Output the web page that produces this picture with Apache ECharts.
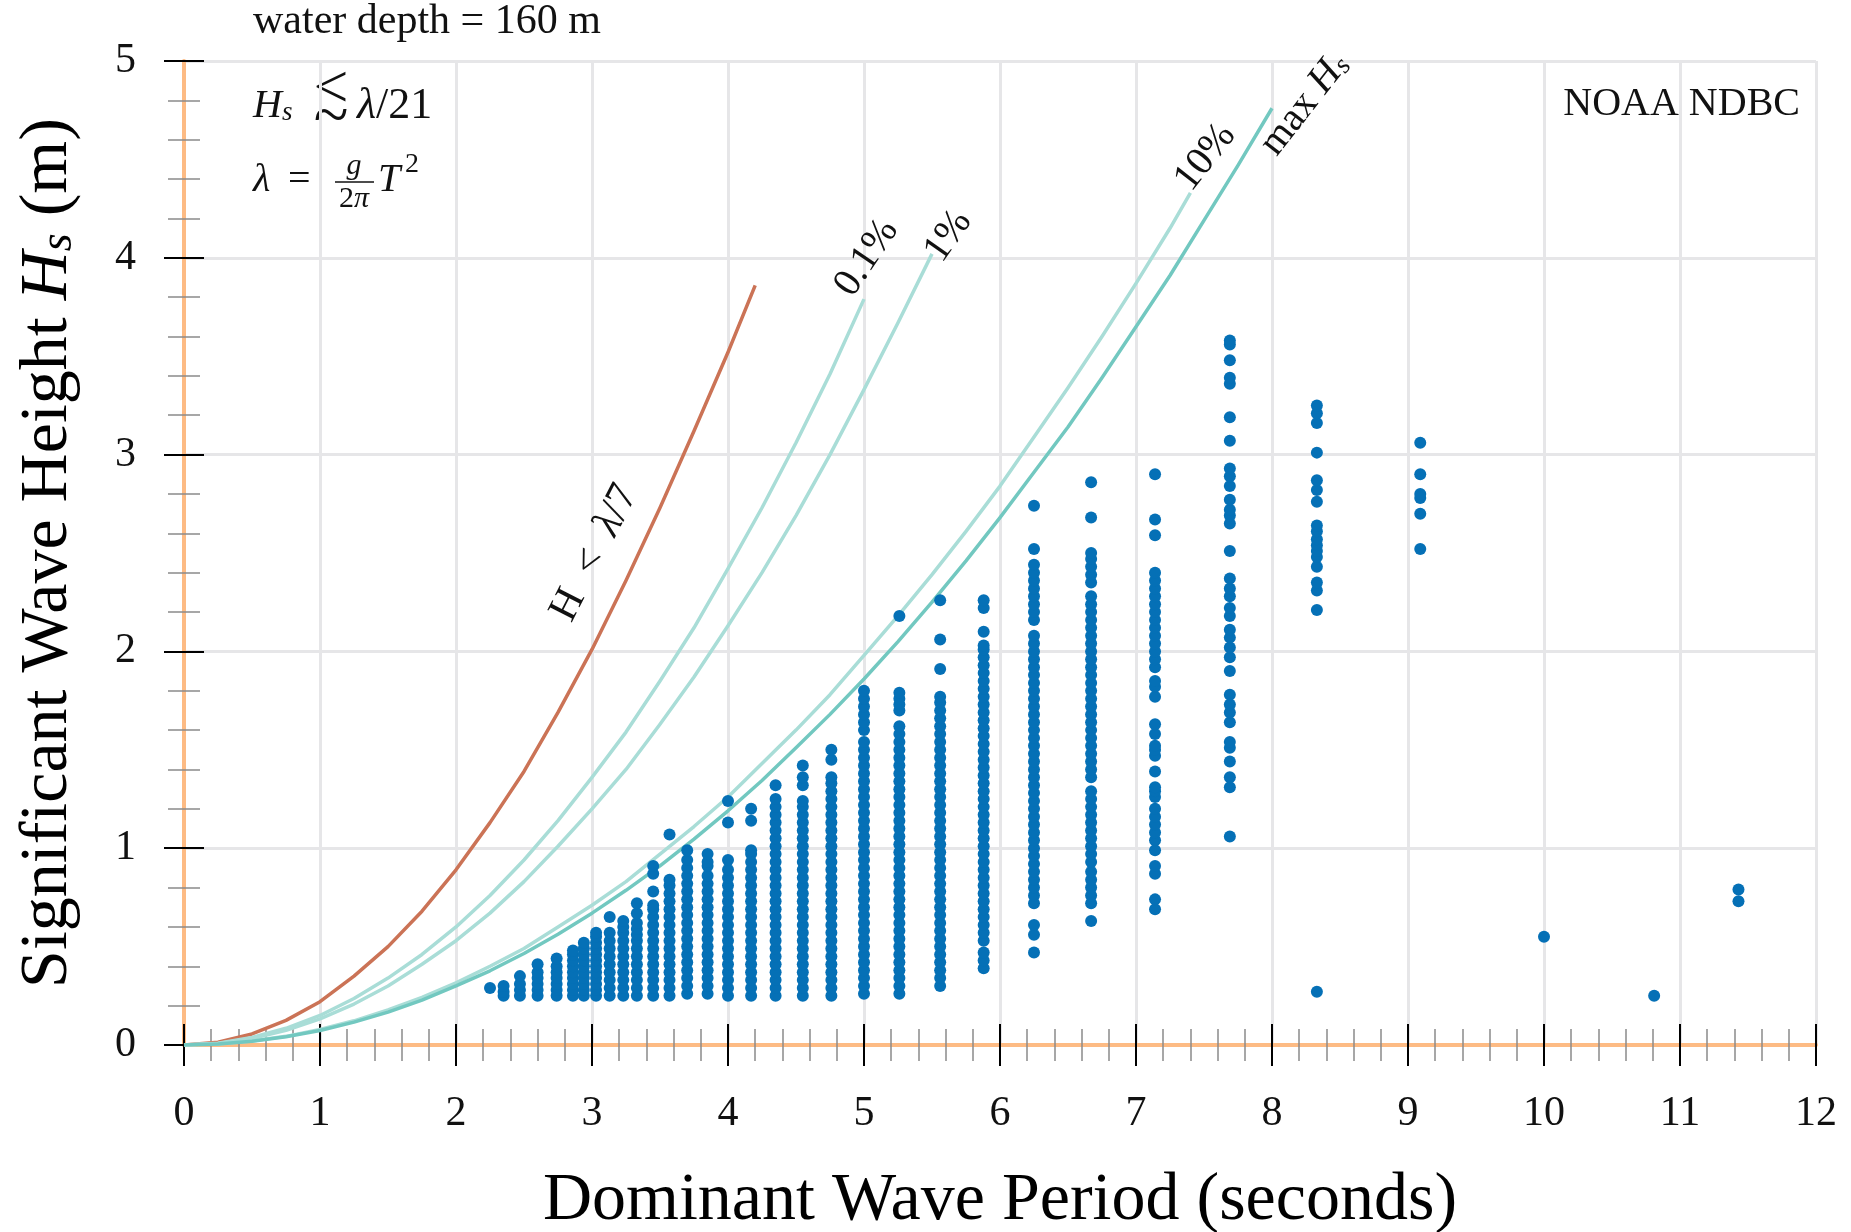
<!DOCTYPE html>
<html><head><meta charset="utf-8">
<script src="https://cdn.jsdelivr.net/npm/echarts@6/dist/echarts.min.js"></script>
<style>html,body{margin:0;padding:0;background:#fff}#c{width:1851px;height:1232px}</style>
</head><body><div id="c"></div>
<script>
// ---- data ----
const periods = [2.25,2.35,2.47,2.6,2.74,2.86,2.94,3.03,3.13,3.23,3.33,3.45,3.57,3.7,3.85,4.0,4.17,4.35,4.55,4.76,5.0,5.26,5.56,5.88,6.25,6.67,7.14,7.69,8.33,9.09,10.0,10.81,11.43];
const heights = [
 [0.29],
 [0.25,0.27,0.30],
 [0.25,0.28,0.31,0.35],
 [0.25,0.28,0.31,0.34,0.37,0.41],
 [0.25,0.28,0.31,0.34,0.37,0.40,0.44],
 [0.25,0.28,0.31,0.34,0.37,0.40,0.43,0.46,0.48],
 [0.25,0.28,0.31,0.34,0.37,0.40,0.43,0.46,0.49,0.52],
 [0.25,0.28,0.31,0.34,0.37,0.40,0.43,0.46,0.49,0.52,0.55,0.57],
 [0.25,0.29,0.33,0.37,0.41,0.45,0.49,0.53,0.57,0.65],
 [0.25,0.29,0.33,0.37,0.41,0.45,0.49,0.53,0.57,0.60,0.63],
 [0.25,0.29,0.33,0.37,0.41,0.45,0.49,0.53,0.56,0.59,0.62,0.67,0.72],
 [0.25,0.29,0.33,0.37,0.41,0.45,0.49,0.53,0.57,0.61,0.65,0.69,0.71,0.78,0.87,0.91],
 [0.25,0.29,0.33,0.37,0.41,0.45,0.49,0.53,0.57,0.61,0.65,0.69,0.73,0.77,0.81,0.84,1.07],
 [0.26,0.30,0.34,0.38,0.42,0.46,0.50,0.54,0.58,0.62,0.66,0.70,0.74,0.78,0.82,0.86,0.90,0.94,0.99],
 [0.26,0.30,0.34,0.38,0.42,0.46,0.50,0.54,0.58,0.62,0.66,0.70,0.74,0.78,0.82,0.86,0.91,0.93,0.97],
 [0.25,0.29,0.33,0.37,0.41,0.45,0.49,0.53,0.57,0.61,0.65,0.69,0.73,0.77,0.81,0.85,0.89,0.94,1.13,1.24],
 [0.25,0.29,0.33,0.37,0.41,0.45,0.49,0.53,0.57,0.61,0.65,0.69,0.73,0.77,0.81,0.85,0.89,0.93,0.97,0.99,1.14,1.20],
 [0.25,0.29,0.33,0.37,0.41,0.45,0.49,0.53,0.57,0.61,0.65,0.69,0.73,0.77,0.81,0.85,0.89,0.93,0.97,1.01,1.05,1.09,1.13,1.17,1.21,1.25,1.32],
 [0.25,0.29,0.33,0.37,0.41,0.45,0.49,0.53,0.57,0.61,0.65,0.69,0.73,0.77,0.81,0.85,0.89,0.93,0.97,1.01,1.05,1.09,1.13,1.17,1.21,1.24,1.32,1.36,1.42],
 [0.25,0.29,0.33,0.37,0.41,0.45,0.49,0.53,0.57,0.61,0.65,0.69,0.73,0.77,0.81,0.85,0.89,0.93,0.97,1.01,1.05,1.09,1.13,1.17,1.21,1.25,1.29,1.33,1.36,1.45,1.50],
 [0.26,0.30,0.34,0.38,0.42,0.46,0.50,0.54,0.58,0.62,0.66,0.70,0.74,0.78,0.82,0.86,0.90,0.94,0.98,1.02,1.06,1.10,1.14,1.18,1.22,1.26,1.30,1.34,1.38,1.42,1.46,1.50,1.54,1.60,1.64,1.68,1.72,1.76,1.80],
 [0.26,0.30,0.34,0.38,0.42,0.46,0.50,0.54,0.58,0.62,0.66,0.70,0.74,0.78,0.82,0.86,0.90,0.94,0.98,1.02,1.06,1.10,1.14,1.18,1.22,1.26,1.30,1.34,1.38,1.42,1.46,1.50,1.54,1.58,1.62,1.70,1.73,1.76,1.79,2.18],
 [0.30,0.34,0.38,0.42,0.46,0.50,0.54,0.58,0.62,0.66,0.70,0.74,0.78,0.82,0.86,0.90,0.94,0.98,1.02,1.06,1.10,1.14,1.18,1.22,1.26,1.30,1.34,1.38,1.42,1.46,1.50,1.54,1.58,1.62,1.66,1.70,1.74,1.77,1.91,2.06,2.26],
 [0.39,0.43,0.47,0.53,0.57,0.61,0.65,0.69,0.73,0.77,0.81,0.85,0.89,0.93,0.97,1.01,1.05,1.09,1.13,1.17,1.21,1.25,1.29,1.33,1.37,1.41,1.45,1.49,1.53,1.57,1.61,1.65,1.69,1.73,1.77,1.81,1.85,1.89,1.93,1.97,2.01,2.03,2.10,2.22,2.26],
 [0.47,0.56,0.61,0.72,0.76,0.80,0.84,0.88,0.92,0.96,1.00,1.04,1.08,1.12,1.16,1.20,1.24,1.28,1.32,1.36,1.40,1.44,1.48,1.52,1.56,1.60,1.64,1.68,1.72,1.76,1.80,1.84,1.88,1.92,1.96,2.00,2.04,2.08,2.16,2.20,2.24,2.28,2.32,2.36,2.40,2.44,2.52,2.74],
 [0.63,0.72,0.76,0.80,0.84,0.88,0.93,0.97,1.01,1.05,1.09,1.13,1.17,1.21,1.25,1.29,1.36,1.40,1.44,1.48,1.52,1.56,1.60,1.64,1.68,1.72,1.76,1.80,1.84,1.88,1.92,1.96,2.00,2.04,2.08,2.12,2.16,2.20,2.24,2.28,2.35,2.39,2.43,2.47,2.50,2.68,2.86],
 [0.69,0.74,0.87,0.91,0.99,1.04,1.08,1.12,1.16,1.20,1.26,1.29,1.31,1.39,1.47,1.50,1.52,1.58,1.63,1.77,1.82,1.85,1.92,1.96,2.00,2.04,2.08,2.12,2.16,2.20,2.24,2.28,2.32,2.36,2.40,2.59,2.67,2.90],
 [1.06,1.31,1.36,1.44,1.51,1.54,1.64,1.69,1.73,1.78,1.90,1.97,2.02,2.07,2.11,2.18,2.22,2.28,2.32,2.37,2.51,2.65,2.69,2.72,2.77,2.84,2.89,2.93,3.07,3.19,3.36,3.39,3.48,3.56,3.58],
 [0.27,2.21,2.31,2.35,2.43,2.48,2.51,2.54,2.57,2.61,2.64,2.76,2.82,2.87,3.01,3.16,3.21,3.25],
 [2.52,2.70,2.78,2.80,2.90,3.06],
 [0.55],
 [0.25],
 [0.73,0.79]
];
// limit curves
const breakT = [0,0.25,0.5,0.75,1,1.25,1.5,1.75,2,2.25,2.5,2.75,3,3.25,3.5,3.75,4,4.2];
const breakH = [0,0.014,0.056,0.125,0.22,0.35,0.50,0.68,0.89,1.13,1.39,1.69,2.01,2.36,2.73,3.12,3.52,3.86];
const p01T = [0,0.25,0.5,0.75,1,1.25,1.5,1.75,2,2.25,2.5,2.75,3,3.25,3.5,3.75,4,4.25,4.5,4.75,5.0];
const p01H = [0,0.009,0.038,0.085,0.15,0.236,0.34,0.46,0.60,0.76,0.94,1.14,1.36,1.59,1.85,2.12,2.42,2.73,3.06,3.41,3.79];
const p1T = [0,0.25,0.5,0.75,1,1.25,1.5,1.75,2,2.25,2.5,2.75,3,3.25,3.5,3.75,4,4.25,4.5,4.75,5,5.25,5.5];
const p1H = [0,0.008,0.033,0.075,0.133,0.208,0.30,0.41,0.53,0.67,0.83,1.01,1.20,1.40,1.63,1.87,2.13,2.40,2.69,3.00,3.33,3.67,4.02];
const p10T = [0,0.25,0.5,0.75,1,1.25,1.5,1.75,2,2.25,2.5,2.75,3,3.25,3.5,3.75,4,4.25,4.5,4.75,5,5.25,5.5,5.75,6,6.25,6.5,6.75,7,7.25,7.4];
const p10H = [0,0.005,0.02,0.044,0.079,0.123,0.178,0.242,0.316,0.40,0.49,0.60,0.71,0.83,0.97,1.11,1.26,1.43,1.60,1.78,1.98,2.18,2.39,2.61,2.84,3.09,3.34,3.60,3.87,4.15,4.33];
const maxT = [0,0.25,0.5,0.75,1,1.25,1.5,1.75,2,2.25,2.5,2.75,3,3.25,3.5,3.75,4,4.25,4.5,4.75,5,5.25,5.5,5.75,6,6.25,6.5,6.75,7,7.25,7.5,7.75,8];
const maxH = [0,0.005,0.019,0.042,0.074,0.116,0.167,0.228,0.30,0.377,0.465,0.563,0.67,0.786,0.91,1.046,1.19,1.344,1.51,1.68,1.86,2.05,2.25,2.46,2.68,2.91,3.14,3.39,3.65,3.91,4.19,4.47,4.76];
const xTicks = [0,1,2,3,4,5,6,7,8,9,10,11,12];
const yTicks = [0,1,2,3,4,5];

// ---- chart ----
const F = "'Liberation Serif','DejaVu Serif',serif";
const pair = (ts, hs) => ts.map((t, i) => [t, hs[i]]);
const scatterData = periods.flatMap((t, i) => heights[i].map(h => [t, h]));
const LIGHT = '#a9ddd7', DARK = '#72c8c0', RED = '#cb7356', DOT = '#0570b6';
const AN = 40; // annotation font size
const CL = 40; // curve label font size

function curveLabel(coord, rot, text, rich, size) {
  return {
    symbol: 'rect', symbolSize: 1, silent: true,
    itemStyle: {color: 'rgba(0,0,0,0)'},
    label: {show: true, position: 'inside', rotate: rot, formatter: text,
            fontSize: size || CL, fontFamily: F, color: '#111', rich: rich || {}},
    data: [{coord: coord}]
  };
}
const italic = {fontStyle: 'italic', fontSize: CL, fontFamily: F, color: '#111'};

function tickAxis(kind, inside, base) {
  const isX = kind === 'x';
  return Object.assign({
    type: 'value', min: 0, max: isX ? 12 : 5, interval: 1,
    position: isX ? 'bottom' : 'left',
    axisLine: {show: false, onZero: false},
    axisTick: {show: true, inside: inside, length: isX ? 21 : 20, lineStyle: {color: '#000', width: 2}},
    minorTick: {show: true, splitNumber: 5, length: 16, lineStyle: {color: '#8a8a8a', width: 1.5}},
    axisLabel: {show: false},
    splitLine: {show: false}
  }, base || {});
}
function curve(name, data, color) {
  return {type: 'line', name: name, data: data, smooth: false,
          showSymbol: false, symbol: 'none', lineStyle: {color: color, width: 3.5, join: 'round'}, z: 3};
}

const chart = echarts.init(document.getElementById('c'));
chart.setOption({
  animation: false,
  backgroundColor: '#fff',
  grid: {left: 184, right: 35, top: 61, bottom: 187, containLabel: false, outerBoundsMode: 'none'},
  xAxis: [
    tickAxis('x', true, {
      axisLine: {show: true, onZero: false, lineStyle: {color: '#fdbb84', width: 4}},
      axisLabel: {show: true, fontSize: 42, fontFamily: F, color: '#111', margin: 48,
                  formatter: v => xTicks.includes(v) ? String(v) : ''},
      splitLine: {show: true, lineStyle: {color: '#e6e6e8', width: 3}},
      name: 'Dominant Wave Period (seconds)', nameLocation: 'middle', nameGap: 122,
      nameTextStyle: {fontSize: 68, fontFamily: F, color: '#000'}
    }),
    tickAxis('x', false)
  ],
  yAxis: [
    tickAxis('y', true, {
      axisLine: {show: true, onZero: false, lineStyle: {color: '#fdbb84', width: 4}},
      axisLabel: {show: true, fontSize: 42, fontFamily: F, color: '#111', margin: 48,
                  formatter: v => yTicks.includes(v) ? String(v) : ''},
      splitLine: {show: true, lineStyle: {color: '#e6e6e8', width: 3}},
      name: 'Significant Wave Height {i|H}{s|s} (m)', nameLocation: 'middle', nameGap: 102, nameRotate: 90,
      nameTextStyle: {fontSize: 68, fontFamily: F, color: '#000',
        rich: {i: {fontSize: 68, fontStyle: 'italic', fontFamily: F, color: '#000'},
               s: {fontSize: 46, fontStyle: 'italic', fontFamily: F, color: '#000', verticalAlign: 'bottom', lineHeight: 30}}}
    }),
    tickAxis('y', false)
  ],
  series: [
    Object.assign(curve('break', pair(breakT, breakH), RED),
      {markPoint: curveLabel([3.02, 2.50], 63, 'H  <  {i|λ}/7', {i: Object.assign({}, italic, {fontSize: 42})}, 42)}),
    Object.assign(curve('0.1%', pair(p01T, p01H), LIGHT),
      {markPoint: curveLabel([5.02, 4.00], 56, '0.1%')}),
    Object.assign(curve('1%', pair(p1T, p1H), LIGHT),
      {markPoint: curveLabel([5.62, 4.11], 55, '1%')}),
    Object.assign(curve('10%', pair(p10T, p10H), LIGHT),
      {markPoint: curveLabel([7.51, 4.51], 52, '10%')}),
    Object.assign(curve('max', pair(maxT, maxH), DARK),
      {markPoint: curveLabel([8.24, 4.78], 52, 'max {i|H}{s|s}',
        {i: italic, s: {fontStyle: 'italic', fontSize: 27, fontFamily: F, color: '#111', verticalAlign: 'bottom', lineHeight: 18}})}),
    {type: 'scatter', name: 'NDBC', data: scatterData, symbol: 'circle', symbolSize: 12,
     itemStyle: {color: DOT, opacity: 1}, z: 5}
  ],
  graphic: [
    {type: 'text', x: 253, y: 22, style: {text: 'water depth = 160 m', fontSize: 42, fontFamily: F, fill: '#111', align: 'left', verticalAlign: 'middle'}},
    {type: 'text', x: 1800, y: 104, style: {text: 'NOAA NDBC', fontSize: AN, fontFamily: F, fill: '#111', align: 'right', verticalAlign: 'middle'}},
    // H_s <~ lambda/21
    {type: 'text', x: 253, y: 106, style: {text: '{i|H}{s|s}', align: 'left', verticalAlign: 'middle',
      rich: {i: {fontStyle: 'italic', fontSize: AN, fontFamily: F, fill: '#111'},
             s: {fontStyle: 'italic', fontSize: 27, fontFamily: F, fill: '#111', verticalAlign: 'bottom', lineHeight: 18}}}},
    {type: 'text', x: 331, y: 91, style: {text: '<', fontSize: 62, fontFamily: F, fill: '#111', align: 'center', verticalAlign: 'middle'}},
    {type: 'text', x: 331, y: 119, style: {text: '~', fontSize: 64, fontFamily: F, fill: '#111', align: 'center', verticalAlign: 'middle'}},
    {type: 'text', x: 357, y: 106, style: {text: '{i|λ}/21', align: 'left', verticalAlign: 'middle', fontSize: 44, fontFamily: F, fill: '#111',
      rich: {i: {fontStyle: 'italic', fontSize: 44, fontFamily: F, fill: '#111'}}}},
    // lambda = g/(2 pi) T^2
    {type: 'text', x: 253, y: 180, style: {text: 'λ', fontStyle: 'italic', fontSize: AN, fontFamily: F, fill: '#111', align: 'left', verticalAlign: 'middle'}},
    {type: 'text', x: 288, y: 180, style: {text: '=', fontSize: AN, fontFamily: F, fill: '#111', align: 'left', verticalAlign: 'middle'}},
    {type: 'text', x: 354, y: 166, style: {text: 'g', fontStyle: 'italic', fontSize: 30, fontFamily: F, fill: '#111', align: 'center', verticalAlign: 'middle'}},
    {type: 'line', shape: {x1: 335, y1: 182, x2: 374, y2: 182}, style: {stroke: '#111', lineWidth: 1.6}},
    {type: 'text', x: 354, y: 199, style: {text: '2{i|π}', align: 'center', verticalAlign: 'middle', fontSize: 30, fontFamily: F, fill: '#111',
      rich: {i: {fontStyle: 'italic', fontSize: 30, fontFamily: F, fill: '#111'}}}},
    {type: 'text', x: 378, y: 180, style: {text: 'T', fontStyle: 'italic', fontSize: AN, fontFamily: F, fill: '#111', align: 'left', verticalAlign: 'middle'}},
    {type: 'text', x: 405, y: 165, style: {text: '2', fontSize: 28, fontFamily: F, fill: '#111', align: 'left', verticalAlign: 'middle'}}
  ]
});
</script>
</body></html>
